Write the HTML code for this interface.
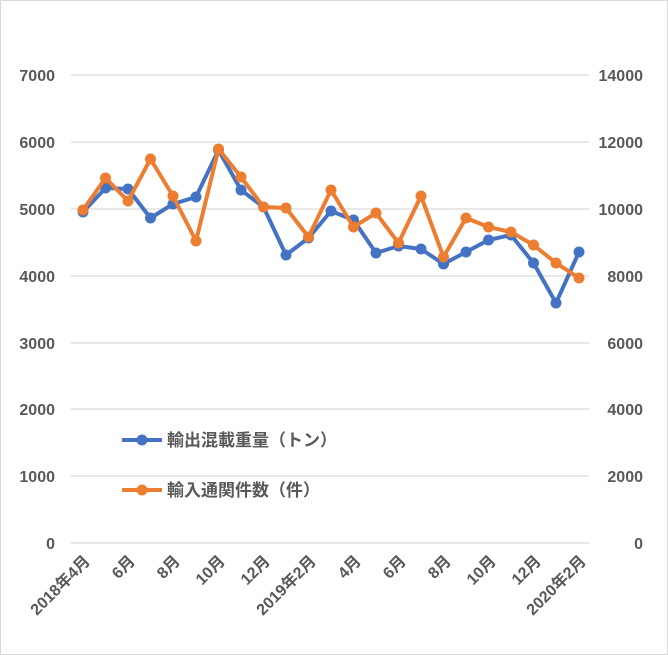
<!DOCTYPE html>
<html><head><meta charset="utf-8"><style>
html,body{margin:0;padding:0;background:#fff;}
svg{display:block;}
text{font-family:"Liberation Sans","Noto Sans CJK JP",sans-serif;fill:#595959;font-weight:bold;font-size:16px;}
</style></head><body>
<svg width="668" height="655" viewBox="0 0 668 655" xmlns="http://www.w3.org/2000/svg">
<rect x="0.5" y="0.5" width="667" height="654" fill="#fff" stroke="#d9d9d9"/>
<g stroke="#d9d9d9" stroke-width="1.3">
<line x1="71" x2="589" y1="75" y2="75"/><line x1="71" x2="589" y1="142" y2="142"/>
<line x1="71" x2="589" y1="209" y2="209"/><line x1="71" x2="589" y1="276" y2="276"/>
<line x1="71" x2="589" y1="343" y2="343"/><line x1="71" x2="589" y1="409" y2="409"/>
<line x1="71" x2="589" y1="476" y2="476"/><line x1="71" x2="589" y1="543" y2="543"/>
</g>
<g text-anchor="end">
<text x="55" y="81">7000</text><text x="55" y="148">6000</text><text x="55" y="215">5000</text>
<text x="55" y="282">4000</text><text x="55" y="349">3000</text><text x="55" y="415">2000</text>
<text x="55" y="482">1000</text><text x="55" y="549">0</text>
</g>
<g text-anchor="end">
<text x="643" y="81">14000</text><text x="643" y="148">12000</text><text x="643" y="215">10000</text>
<text x="643" y="282">8000</text><text x="643" y="349">6000</text><text x="643" y="415">4000</text>
<text x="643" y="482">2000</text><text x="643" y="549">0</text>
</g>
<g text-anchor="end" style="font-size:17px">
<text transform="translate(91,562) rotate(-45)">2018年4月</text>
<text transform="translate(136,562) rotate(-45)">6月</text>
<text transform="translate(181,562) rotate(-45)">8月</text>
<text transform="translate(226,562) rotate(-45)">10月</text>
<text transform="translate(271,562) rotate(-45)">12月</text>
<text transform="translate(317,562) rotate(-45)">2019年2月</text>
<text transform="translate(362,562) rotate(-45)">4月</text>
<text transform="translate(407,562) rotate(-45)">6月</text>
<text transform="translate(452,562) rotate(-45)">8月</text>
<text transform="translate(497,562) rotate(-45)">10月</text>
<text transform="translate(542,562) rotate(-45)">12月</text>
<text transform="translate(587,562) rotate(-45)">2020年2月</text>
</g>
<polyline fill="none" stroke="#4472c4" stroke-width="4" stroke-linejoin="round" points="83,212 105.5,188 128,189 150.5,218 173,204 196,197 218.5,150 241,190 263.5,207 286,255 308.5,238 331,211 353.5,220 376,253 398.5,246 421,249 443.5,264 466,252 488.5,240 511,235 533.5,263 556,303 579,252"/>
<g fill="#4472c4">
<circle cx="83" cy="212" r="5.5"/><circle cx="105.5" cy="188" r="5.5"/><circle cx="128" cy="189" r="5.5"/><circle cx="150.5" cy="218" r="5.5"/><circle cx="173" cy="204" r="5.5"/><circle cx="196" cy="197" r="5.5"/><circle cx="218.5" cy="150" r="5.5"/><circle cx="241" cy="190" r="5.5"/><circle cx="263.5" cy="207" r="5.5"/><circle cx="286" cy="255" r="5.5"/><circle cx="308.5" cy="238" r="5.5"/><circle cx="331" cy="211" r="5.5"/><circle cx="353.5" cy="220" r="5.5"/><circle cx="376" cy="253" r="5.5"/><circle cx="398.5" cy="246" r="5.5"/><circle cx="421" cy="249" r="5.5"/><circle cx="443.5" cy="264" r="5.5"/><circle cx="466" cy="252" r="5.5"/><circle cx="488.5" cy="240" r="5.5"/><circle cx="511" cy="235" r="5.5"/><circle cx="533.5" cy="263" r="5.5"/><circle cx="556" cy="303" r="5.5"/><circle cx="579" cy="252" r="5.5"/>
</g>
<polyline fill="none" stroke="#ed7d31" stroke-width="4" stroke-linejoin="round" points="83,210 105.5,178 128,201 150.5,159 173,196 196,241 218.5,149 241,177 263.5,207 286,208 308.5,237 331,190 353.5,227 376,213 398.5,243 421,196 443.5,257 466,218 488.5,227 511,232 533.5,245 556,263 579,278"/>
<g fill="#ed7d31">
<circle cx="83" cy="210" r="5.5"/><circle cx="105.5" cy="178" r="5.5"/><circle cx="128" cy="201" r="5.5"/><circle cx="150.5" cy="159" r="5.5"/><circle cx="173" cy="196" r="5.5"/><circle cx="196" cy="241" r="5.5"/><circle cx="218.5" cy="149" r="5.5"/><circle cx="241" cy="177" r="5.5"/><circle cx="263.5" cy="207" r="5.5"/><circle cx="286" cy="208" r="5.5"/><circle cx="308.5" cy="237" r="5.5"/><circle cx="331" cy="190" r="5.5"/><circle cx="353.5" cy="227" r="5.5"/><circle cx="376" cy="213" r="5.5"/><circle cx="398.5" cy="243" r="5.5"/><circle cx="421" cy="196" r="5.5"/><circle cx="443.5" cy="257" r="5.5"/><circle cx="466" cy="218" r="5.5"/><circle cx="488.5" cy="227" r="5.5"/><circle cx="511" cy="232" r="5.5"/><circle cx="533.5" cy="245" r="5.5"/><circle cx="556" cy="263" r="5.5"/><circle cx="579" cy="278" r="5.5"/>
</g>
<line x1="122" x2="162" y1="440" y2="440" stroke="#4472c4" stroke-width="4"/>
<circle cx="142" cy="440" r="5.5" fill="#4472c4"/>
<text x="167" y="446" style="font-size:17px">輸出混載重量（トン）</text>
<line x1="122" x2="162" y1="490" y2="490" stroke="#ed7d31" stroke-width="4"/>
<circle cx="142" cy="490" r="5.5" fill="#ed7d31"/>
<text x="167" y="496" style="font-size:17px">輸入通関件数（件）</text>
</svg>
</body></html>
